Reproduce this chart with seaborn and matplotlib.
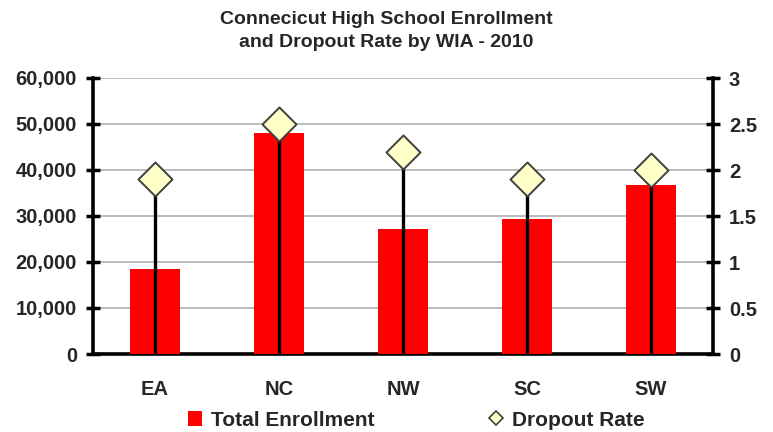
import numpy as np
import matplotlib
matplotlib.use("Agg")
import matplotlib.pyplot as plt
import seaborn as sns
from matplotlib.patches import Patch
from matplotlib.lines import Line2D

categories = ["EA", "NC", "NW", "SC", "SW"]
enrollment = [18400, 48100, 27100, 29400, 36800]
dropout_rate = [1.9, 2.5, 2.2, 1.9, 2.0]
left_ticks = [0, 10000, 20000, 30000, 40000, 50000, 60000]
right_ticks = [0, 0.5, 1, 1.5, 2, 2.5, 3]
right_labels = ["0", "0.5", "1", "1.5", "2", "2.5", "3"]

sns.set_style("white")
plt.rcParams["font.family"] = ["Liberation Sans", "DejaVu Sans"]
plt.rcParams["font.weight"] = "bold"

fig = plt.figure(figsize=(7.73, 4.32), dpi=100)
ax = fig.add_axes([93/773, 1-354/432, (713-93)/773, (354-78)/432])

sns.barplot(x=categories, y=enrollment, color="#FF0000", saturation=1,
            width=0.41, ax=ax, zorder=3, linewidth=0)
ax.set_xlim(-0.5, 4.5)
ax.set_ylim(0, 60000)
ax.set_yticks(left_ticks)
ax.set_yticklabels([f"{v:,}" for v in left_ticks], fontsize=14.5, fontweight="bold")
ax.yaxis.grid(True, color="#b0b0b0", lw=1.2, zorder=0)
ax.set_axisbelow(True)
ax.set_xlabel("")
ax.set_ylabel("")
ax.set_xticks(range(len(categories)))
ax.set_xticklabels(categories, fontsize=14.5, fontweight="bold")
ax.set_xticks(np.arange(-0.5, 5, 1.0), minor=True)
ax.tick_params(axis="x", which="major", length=0, pad=19)
ax.tick_params(axis="x", which="minor", length=10, width=2.5, direction="inout", color="black")
ax.tick_params(axis="y", length=10, width=2.5, direction="inout", color="black", pad=6.5)
for s in ["left", "bottom"]:
    ax.spines[s].set_linewidth(2.6)
    ax.spines[s].set_color("black")
for s in ["top", "right"]:
    ax.spines[s].set_visible(False)

ax2 = ax.twinx()
ax2.set_ylim(0, 3)
xpos = np.arange(len(categories))
ax2.vlines(xpos, 0, dropout_rate, color="black", lw=2.4, zorder=3)
sns.scatterplot(x=xpos, y=dropout_rate, marker="D", s=300, color="#FFFFC8",
                edgecolor="#404040", linewidth=1.4, ax=ax2, zorder=4, legend=False)
ax2.set_yticks(right_ticks)
ax2.set_yticklabels(right_labels, fontsize=14.5, fontweight="bold")
ax2.tick_params(axis="y", length=10, width=2.5, direction="inout", color="black", pad=6.5)
ax2.spines["right"].set_linewidth(2.6)
ax2.spines["right"].set_color("black")
for s in ["top", "left", "bottom"]:
    ax2.spines[s].set_visible(False)
ax2.set_ylabel("")
ax2.set_xlim(-0.5, 4.5)

fig.text(0.5, 1-31/432, "Connecicut High School Enrollment\nand Dropout Rate by WIA - 2010",
         ha="center", va="center", fontsize=14, fontweight="bold", linespacing=1.45)

handles = [Patch(facecolor="#FF0000", edgecolor="none"),
           Line2D([], [], marker="D", ls="none", markersize=7, markerfacecolor="#FFFFC8",
                  markeredgecolor="#404040", markeredgewidth=1.2)]
fig.legend(handles, ["Total Enrollment", "Dropout Rate"], loc="center",
           bbox_to_anchor=(416/773, 1-420/432), ncol=2, frameon=False,
           prop={"size": 15, "weight": "bold"}, handlelength=0.7, handleheight=0.7,
           handletextpad=0.4, columnspacing=5.5)

fig.savefig("out.png", dpi=100)
